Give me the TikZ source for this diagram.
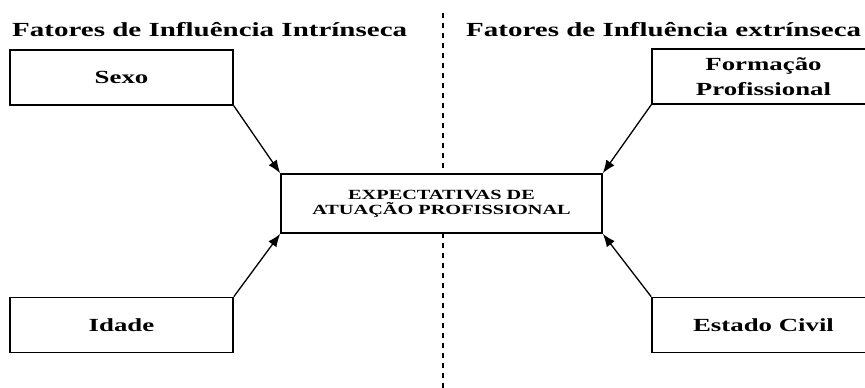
\documentclass[tikz,border=0pt]{standalone}
\usepackage{fontspec}
\setmainfont{Liberation Serif}[FakeStretch=1.45]
\usetikzlibrary{positioning,arrows.meta}

\begin{document}
\begin{tikzpicture}[x=1pt,y=-1pt]
            \tikzstyle{factor} = [rectangle, draw, line width=1.6pt, fill=white, minimum width=223pt, minimum height=55pt, align=center, font=\bfseries\fontsize{18.5}{25}\selectfont]
            \tikzstyle{central} = [rectangle, draw, line width=1.6pt, fill=white, minimum width=321pt, minimum height=59pt, align=center, font=\bfseries\fontsize{14}{15}\selectfont]
            \tikzstyle{heading} = [anchor=west, inner sep=0pt, font=\bfseries\fontsize{20}{24}\selectfont]
            \tikzstyle{influence} = [-{Latex[length=13pt,width=10pt]}, line width=1.3pt]
            \useasboundingbox (0,0) rectangle (865,388);
            \coordinate (divtop) at (443,13);
            \coordinate (divbot) at (443,388);
            \draw[line width=1.2pt, dash pattern=on 5pt off 5pt] (divtop) -- (divbot);
            \node[heading] (intr) at (12,30) {Fatores de Influência Intrínseca};
            \node[heading] (extr) at (466,30) {Fatores de Influência extrínseca};
            \node[factor] (sexo) at (121.5,77.5) {Sexo};
            \node[factor] (idade) at (121.5,325) {Idade};
            \node[factor] (formacao) at (763.5,76.5) {Formação\\Profissional};
            \node[factor] (estado) at (763.5,325) {Estado Civil};
            \node[central] (expect) at (441.5,203.5) {EXPECTATIVAS DE\\ATUAÇÃO PROFISSIONAL};
            \draw[influence] (sexo.south east) -- (expect.north west);
            \draw[influence] (idade.north east) -- (expect.south west);
            \draw[influence] (formacao.south west) -- (expect.north east);
            \draw[influence] (estado.north west) -- (expect.south east);
\end{tikzpicture}
\end{document}
